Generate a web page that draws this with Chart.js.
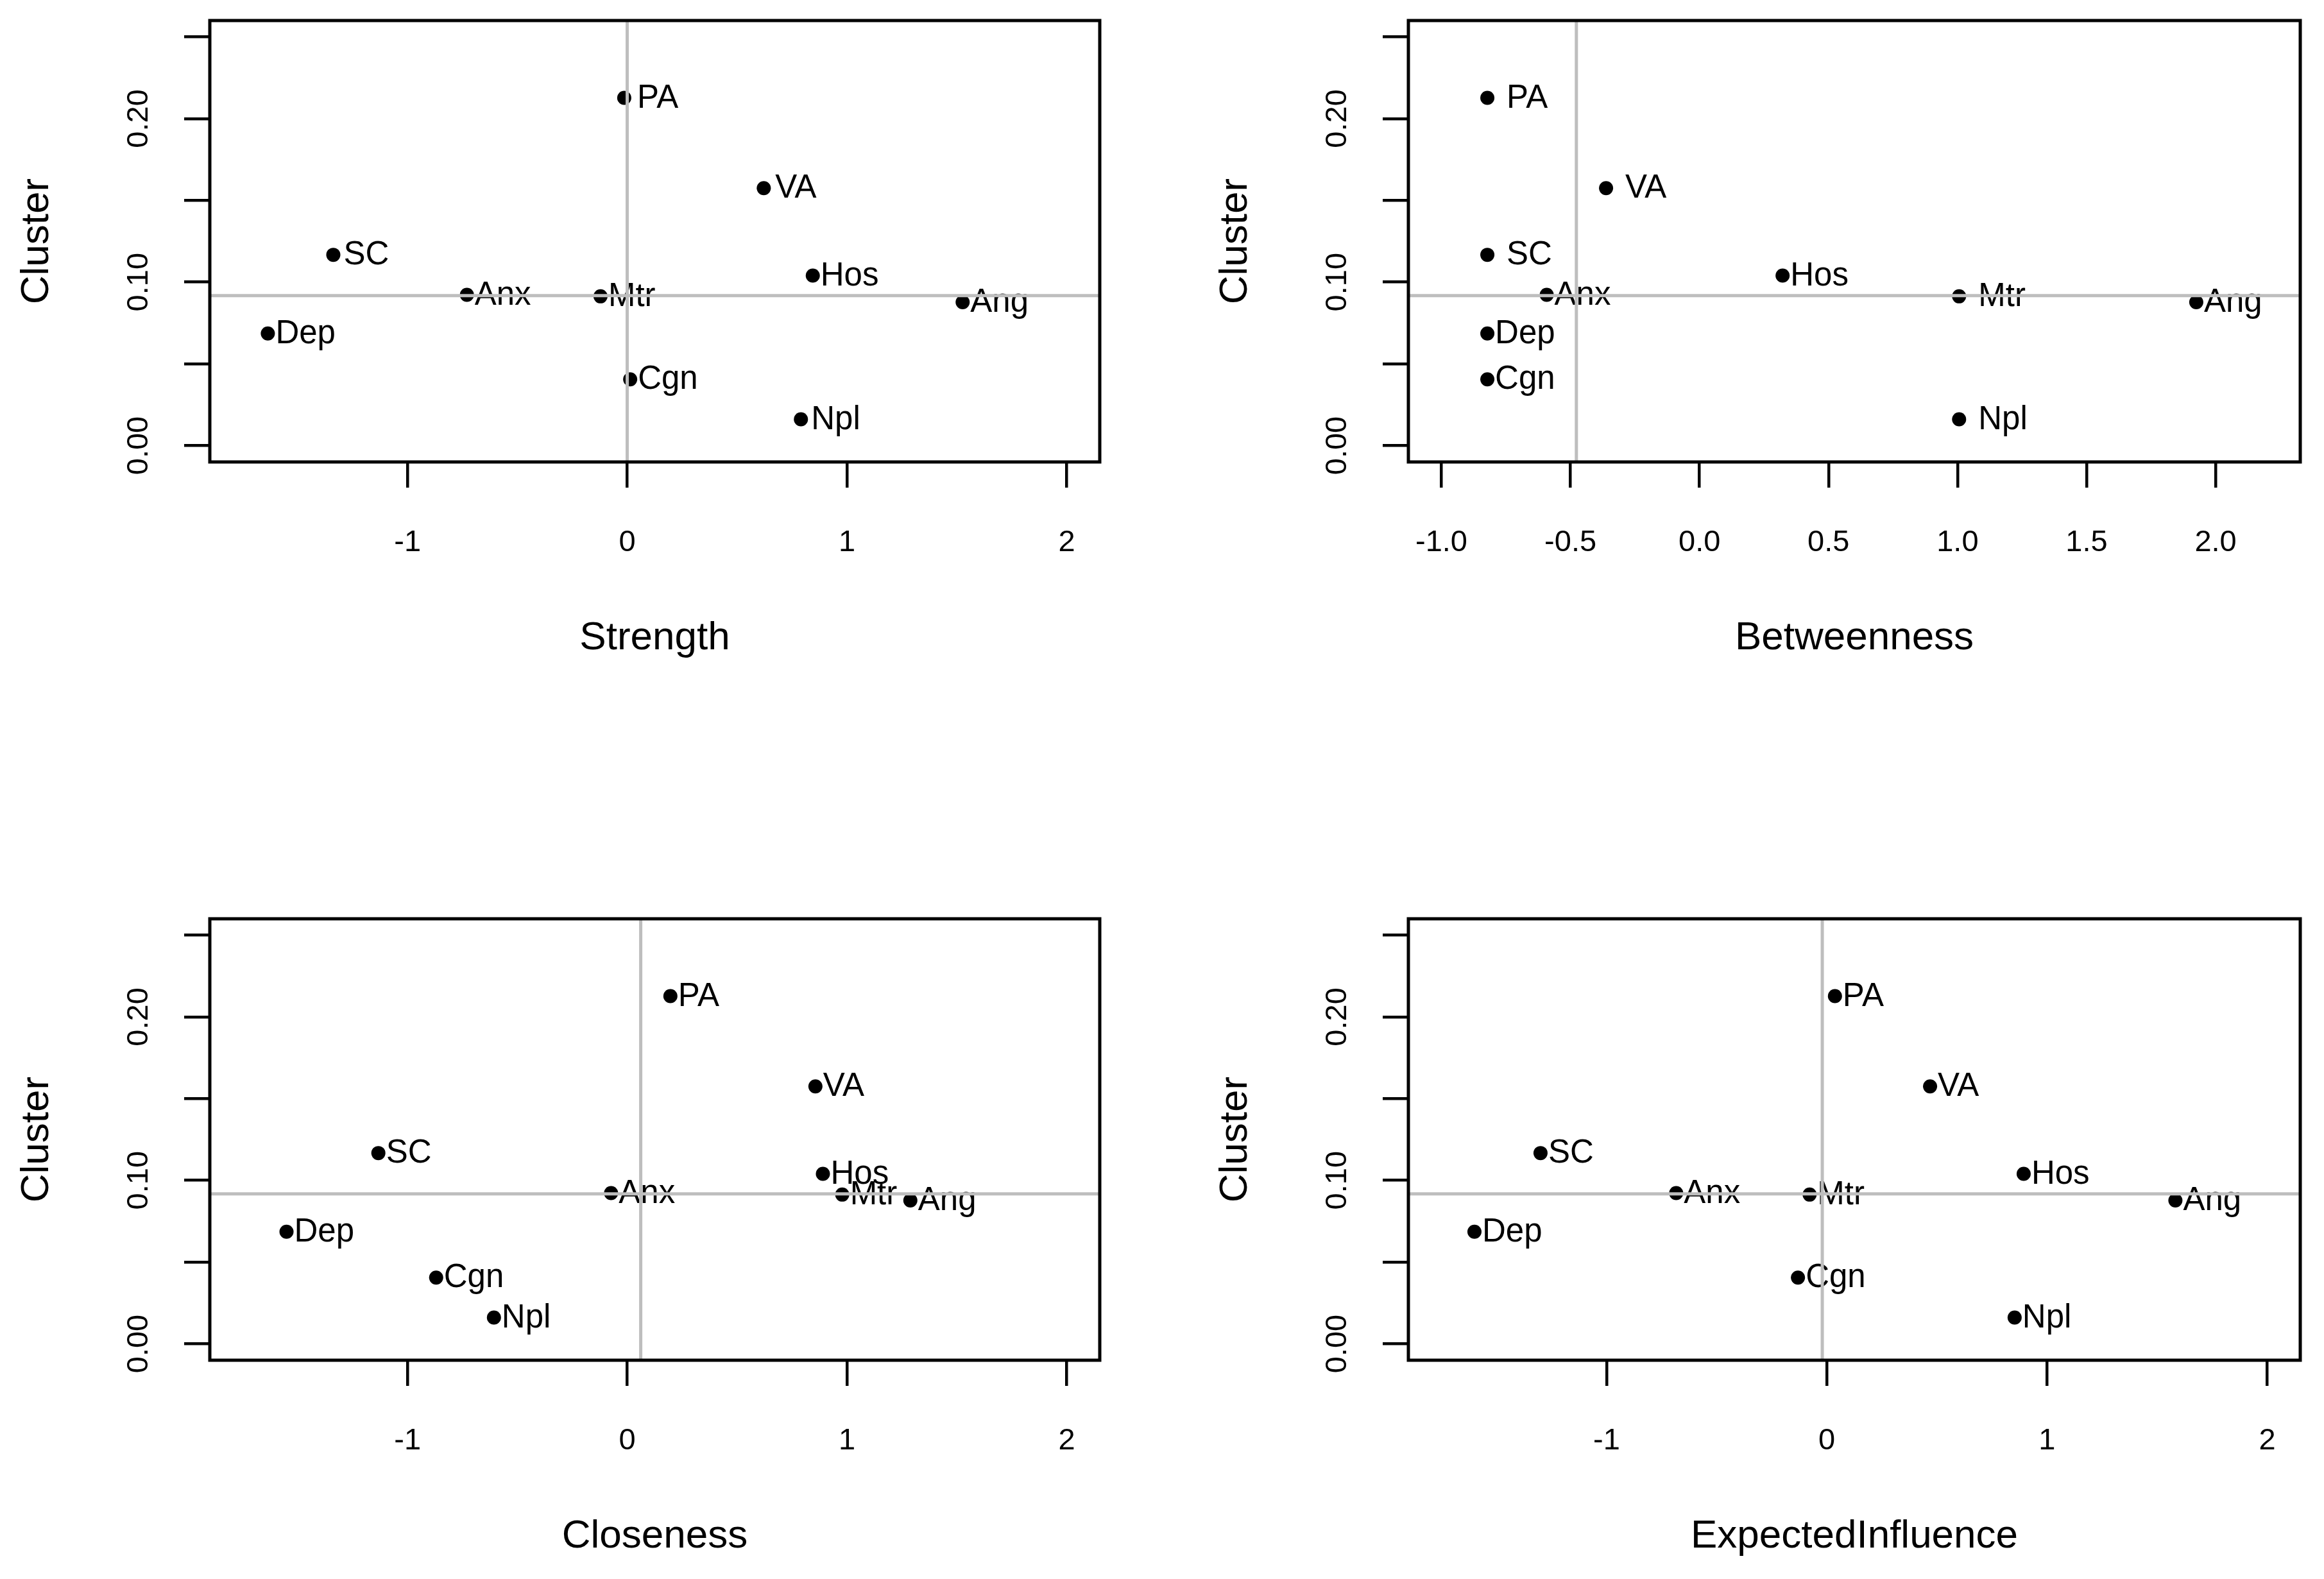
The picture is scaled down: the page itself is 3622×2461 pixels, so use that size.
<!DOCTYPE html>
<html>
<head>
<meta charset="utf-8">
<script src="https://cdn.jsdelivr.net/npm/chart.js@4.4.1/dist/chart.umd.min.js"></script>
<style>
  html, body { margin: 0; padding: 0; background: #fff; }
  body { width: 3622px; height: 2461px; position: relative; overflow: hidden; }
  .panel { position: absolute; }
</style>
</head>
<body>
<div class="panel" style="left:0px;top:0px;width:1744px;height:1050px"><canvas id="strength"></canvas></div>
<div class="panel" style="left:1868px;top:0px;width:1747px;height:1050px"><canvas id="betweenness"></canvas></div>
<div class="panel" style="left:0px;top:1400px;width:1744px;height:1050px"><canvas id="closeness"></canvas></div>
<div class="panel" style="left:1868px;top:1400px;width:1747px;height:1050px"><canvas id="influence"></canvas></div>
<script>
// node order is the same in every panel
const nodes = ['PA', 'VA', 'SC', 'Hos', 'Anx', 'Mtr', 'Ang', 'Dep', 'Cgn', 'Npl'];
const cluster = [0.2127, 0.1575, 0.1167, 0.1040, 0.0922, 0.0913, 0.0877, 0.0686, 0.0405, 0.0161];

const strength = [-0.014, 0.621, -1.338, 0.844, -0.730, -0.122, 1.526, -1.636, 0.013, 0.790];
const betweenness = [-0.822, -0.362, -0.822, 0.322, -0.592, 1.006, 1.925, -0.822, -0.822, 1.006];
const closeness = [0.196, 0.856, -1.133, 0.890, -0.074, 0.978, 1.288, -1.551, -0.870, -0.607];
const expectedInfluence = [0.037, 0.469, -1.300, 0.894, -0.684, -0.078, 1.583, -1.600, -0.131, 0.853];

const zTicks = [-1, 0, 1, 2];
const zTickLabels = ['-1', '0', '1', '2'];
const betTicks = [-1, -0.5, 0, 0.5, 1, 1.5, 2];
const betTickLabels = ['-1.0', '-0.5', '0.0', '0.5', '1.0', '1.5', '2.0'];
const clusterTicks = [0, 0.05, 0.10, 0.15, 0.20, 0.25];
const clusterTickLabels = ['0.00', '', '0.10', '', '0.20', ''];

const FONT = '"Liberation Sans", Arial, sans-serif';
Chart.defaults.font.family = FONT;
Chart.defaults.color = '#000';

function median(arr) {
  const s = arr.slice().sort((a, b) => a - b);
  const m = Math.floor(s.length / 2);
  return s.length % 2 ? s[m] : (s[m - 1] + s[m]) / 2;
}

// labels, median lines and the box round the plot region
const panelDecor = {
  id: 'panelDecor',
  afterDatasetsDraw(chart, args, opts) {
    const ctx = chart.ctx;
    const area = chart.chartArea;
    const meta = chart.getDatasetMeta(0);
    ctx.save();
    ctx.font = '51px ' + FONT;
    ctx.fillStyle = '#000';
    ctx.textAlign = 'left';
    ctx.textBaseline = 'middle';
    meta.data.forEach((pt, i) => {
      const gap = opts.gaps[nodes[i]] || 12;
      ctx.fillText(nodes[i], pt.x + gap, pt.y + 1);
    });

    ctx.beginPath();
    ctx.rect(area.left, area.top, area.right - area.left, area.bottom - area.top);
    ctx.clip();
    ctx.strokeStyle = '#bebebe';
    ctx.lineWidth = 5;
    const vx = chart.scales.x.getPixelForValue(median(opts.xs));
    const hy = chart.scales.y.getPixelForValue(median(cluster));
    ctx.beginPath();
    ctx.moveTo(vx, area.top);
    ctx.lineTo(vx, area.bottom);
    ctx.moveTo(area.left, hy);
    ctx.lineTo(area.right, hy);
    ctx.stroke();
    ctx.restore();
  },
  afterDraw(chart) {
    const ctx = chart.ctx;
    const a = chart.chartArea;
    ctx.save();
    ctx.strokeStyle = '#000';
    ctx.lineWidth = 5;
    ctx.strokeRect(a.left, a.top, a.right - a.left, a.bottom - a.top);
    ctx.restore();
  }
};

function makePanel(id, xs, title, xMin, xMax, xTicks, xTickLabels, gaps) {
  const points = nodes.map((n, i) => ({ x: xs[i], y: cluster[i] }));
  return new Chart(document.getElementById(id), {
    type: 'scatter',
    data: {
      datasets: [{
        data: points,
        pointRadius: 11,
        pointHoverRadius: 11,
        backgroundColor: '#000',
        borderWidth: 0
      }]
    },
    options: {
      responsive: true,
      maintainAspectRatio: false,
      animation: false,
      events: [],
      layout: { padding: { left: 0, top: 32, right: 30, bottom: 0 } },
      plugins: {
        legend: { display: false },
        tooltip: { enabled: false },
        panelDecor: { xs: xs, gaps: gaps }
      },
      scales: {
        x: {
          type: 'linear',
          position: 'bottom',
          min: xMin,
          max: xMax,
          afterFit: s => { s.height = 330; s.paddingLeft = 0; s.paddingRight = 0; },
          afterBuildTicks: s => { s.ticks = xTicks.map(v => ({ value: v })); },
          ticks: {
            autoSkip: false,
            minRotation: 0,
            maxRotation: 0,
            padding: 58,
            font: { size: 47 },
            callback: (v, i) => xTickLabels[i]
          },
          grid: { drawOnChartArea: false, drawTicks: true, tickLength: 40, lineWidth: 4.5, color: '#000' },
          border: { display: false },
          title: { display: true, text: title, font: { size: 62 }, padding: { top: 0, bottom: 18 } }
        },
        y: {
          type: 'linear',
          position: 'left',
          min: -0.01,
          max: 0.26,
          afterFit: s => { s.width = 327; s.paddingTop = 0; s.paddingBottom = 0; },
          afterBuildTicks: s => { s.ticks = clusterTicks.map(v => ({ value: v })); },
          ticks: {
            autoSkip: false,
            minRotation: 90,
            maxRotation: 90,
            crossAlign: 'center',
            padding: 24,
            font: { size: 47 },
            callback: (v, i) => clusterTickLabels[i]
          },
          grid: { drawOnChartArea: false, drawTicks: true, tickLength: 40, lineWidth: 4.5, color: '#000' },
          border: { display: false },
          title: { display: true, text: 'Cluster', font: { size: 62 }, padding: { top: 21, bottom: 0 } }
        }
      }
    },
    plugins: [panelDecor]
  });
}

makePanel('strength', strength, 'Strength', -1.9, 2.15, zTicks, zTickLabels, { PA: 20, VA: 18, SC: 16, Npl: 16 });
makePanel('betweenness', betweenness, 'Betweenness', -1.128, 2.328, betTicks, betTickLabels, { PA: 30, VA: 30, SC: 30, Mtr: 30, Npl: 30 });
makePanel('closeness', closeness, 'Closeness', -1.9, 2.15, zTicks, zTickLabels, {});
makePanel('influence', expectedInfluence, 'ExpectedInfluence', -1.9, 2.15, zTicks, zTickLabels, {});
</script>
</body>
</html>
